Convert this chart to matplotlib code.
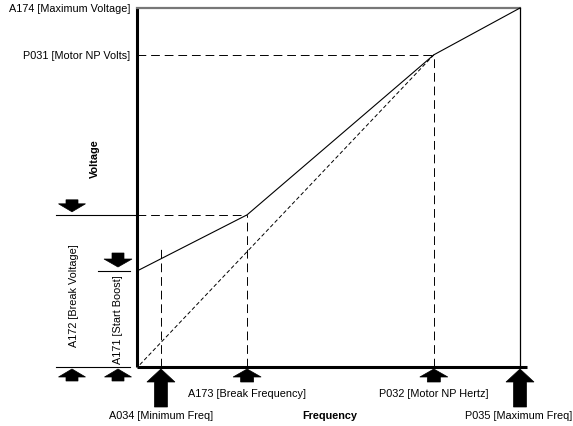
import matplotlib
matplotlib.use("Agg")
import matplotlib.pyplot as plt
from matplotlib.patches import Polygon

# V/Hz curve settings (Hz and volts)
min_freq = 5
break_freq = 23
motor_np_hz = 62
max_freq = 80

start_boost = 123
break_volts = 195
motor_np_volts = 400
max_volts = 460

curve_f = [0, break_freq, motor_np_hz, max_freq]
curve_v = [start_boost, break_volts, motor_np_volts, max_volts]

plt.rcParams['font.family'] = ['Liberation Sans', 'DejaVu Sans']
FS = 7.8

W, H = 573, 427
fig = plt.figure(figsize=(W / 100, H / 100), dpi=100)

# main axes: frame lines are drawn by hand
ax = fig.add_axes([137 / W, (H - 368) / H, 383 / W, 359 / H])
ax.set_xlim(0, max_freq)
ax.set_ylim(0, max_volts)
ax.axis('off')

# overlay in pixel coords for the arrows and labels
ov = fig.add_axes([0, 0, 1, 1], zorder=-1)
ov.set_xlim(0, W)
ov.set_ylim(H, 0)
ov.axis('off')


def to_px(f, v):
    d = ax.transData.transform((f, v))
    return ov.transData.inverted().transform(d)


def block_arrow(x, tip, length, head, width, shaft, up=True):
    s = 1 if up else -1
    base = tip + s * length
    hb = tip + s * head
    pts = [(x, tip), (x + width / 2, hb), (x + shaft / 2, hb), (x + shaft / 2, base),
           (x - shaft / 2, base), (x - shaft / 2, hb), (x - width / 2, hb)]
    ov.add_patch(Polygon(pts, closed=True, facecolor='black', edgecolor='black', lw=0.5))


# axes frame
ax.plot([0, 0], [0, max_volts], color='black', lw=2.2, clip_on=False, solid_capstyle='butt')
ax.plot([0, 81.5], [0, 0], color='black', lw=2.2, clip_on=False, solid_capstyle='butt')
ax.plot([0, max_freq], [max_volts, max_volts], color='#777777', lw=1.6, clip_on=False)
ax.plot([max_freq, max_freq], [0, max_volts], color='black', lw=0.9, clip_on=False)

# V/Hz curve with boost
ax.plot(curve_f, curve_v, color='black', lw=0.8, clip_on=False)
# linear reference
ax.plot([0.6, motor_np_hz], [3, motor_np_volts], color='black', lw=0.7, ls=(0, (4, 2.5)))

dash = (0, (9, 5))
ax.plot([0, motor_np_hz], [motor_np_volts, motor_np_volts], color='black', lw=0.7, ls=dash)
ax.plot([motor_np_hz, motor_np_hz], [0, motor_np_volts], color='black', lw=0.7, ls=dash)
ax.plot([break_freq, break_freq], [0, break_volts], color='black', lw=0.7, ls=dash)
ax.plot([0, break_freq], [break_volts, break_volts], color='black', lw=0.7, ls=dash)
ax.plot([min_freq, min_freq], [0, 151], color='black', lw=0.7, ls=dash)

# reference lines to the left of the axis
ax.plot([-17, 0], [break_volts, break_volts], color='black', lw=0.8, clip_on=False)
ax.plot([-17, -1.5], [0, 0], color='black', lw=0.8, clip_on=False)
ax.plot([-8.1, -1.5], [start_boost, start_boost], color='black', lw=0.8, clip_on=False)

# frequency arrows
for f, length, head in [(min_freq, 38, 13), (break_freq, 13, 8),
                        (motor_np_hz, 13, 8), (max_freq, 38, 13)]:
    px, py = to_px(f, 0)
    block_arrow(px, py + 2, length, head, 28, 13)

# voltage arrows
_, yb = to_px(0, break_volts)
_, ys = to_px(0, start_boost)
_, y0 = to_px(0, 0)
block_arrow(72, yb - 3, 12, 8, 27, 12, up=False)
block_arrow(118, ys - 4, 14, 8, 28, 12, up=False)
block_arrow(72, y0 + 2, 12, 8, 27, 12)
block_arrow(118, y0 + 2, 12, 8, 27, 12)

# labels
_, yt = to_px(0, max_volts)
_, yn = to_px(0, motor_np_volts)
ov.text(130, yt, 'A174 [Maximum Voltage]', ha='right', va='center', fontsize=FS)
ov.text(130, yn, 'P031 [Motor NP Volts]', ha='right', va='center', fontsize=FS)
ov.text(95, 159, 'Voltage', rotation=90, ha='center', va='center', fontsize=FS, fontweight='bold')
ov.text(74, 296, 'A172 [Break Voltage]', rotation=90, ha='center', va='center', fontsize=FS)
ov.text(118, 320, 'A171 [Start Boost]', rotation=90, ha='center', va='center', fontsize=FS)

xm, _ = to_px(min_freq, 0)
xb, _ = to_px(break_freq, 0)
xn, _ = to_px(motor_np_hz, 0)
xx, _ = to_px(max_freq, 0)
ov.text(xm, 416, 'A034 [Minimum Freq]', ha='center', va='center', fontsize=FS)
ov.text(xb, 394, 'A173 [Break Frequency]', ha='center', va='center', fontsize=FS)
ov.text(xn, 394, 'P032 [Motor NP Hertz]', ha='center', va='center', fontsize=FS)
ov.text(519, 416, 'P035 [Maximum Freq]', ha='center', va='center', fontsize=FS)
ov.text(330, 416, 'Frequency', ha='center', va='center', fontsize=FS, fontweight='bold')

fig.savefig('out.png', dpi=100)
